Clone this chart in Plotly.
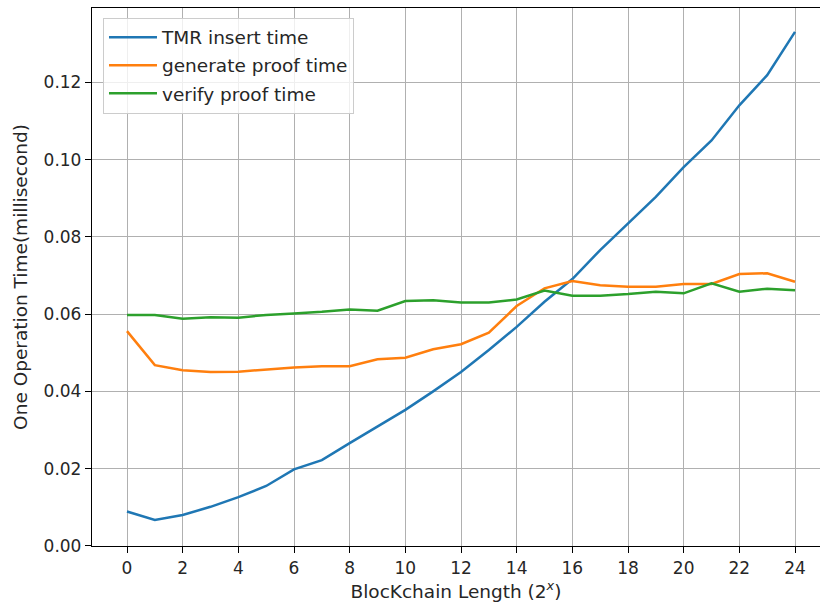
import plotly.graph_objects as go

x_vals = list(range(25))
tmr_insert = [0.0089, 0.0067, 0.0080, 0.0101, 0.0126, 0.0155, 0.0198, 0.0222, 0.0266, 0.0310,
              0.0352, 0.0400, 0.0450, 0.0507, 0.0567, 0.0632, 0.0691, 0.0766, 0.0835, 0.0904,
              0.0981, 0.1050, 0.1141, 0.1219, 0.1331]
gen_proof = [0.0556, 0.0468, 0.0455, 0.0450, 0.0451, 0.0457, 0.0462, 0.0465, 0.0465, 0.0483,
             0.0487, 0.0509, 0.0522, 0.0552, 0.0621, 0.0667, 0.0686, 0.0675, 0.0671, 0.0671,
             0.0678, 0.0678, 0.0704, 0.0706, 0.0684]
ver_proof = [0.0598, 0.0598, 0.0588, 0.0592, 0.0591, 0.0598, 0.0602, 0.0606, 0.0612, 0.0609,
             0.0634, 0.0636, 0.0630, 0.0630, 0.0638, 0.0661, 0.0648, 0.0648, 0.0652, 0.0658,
             0.0654, 0.0680, 0.0658, 0.0666, 0.0662]
names = ["TMR insert time", "generate proof time", "verify proof time"]
colors = ["#1f77b4", "#ff7f0e", "#2ca02c"]
x_ticks = list(range(0, 25, 2))
y_ticks = [0.00, 0.02, 0.04, 0.06, 0.08, 0.10, 0.12]

FONT = "DejaVu Sans"
FS = 17
TFS = 18.5
TXT = "#262626"
fig = go.Figure()
for i, (nm, ys) in enumerate(zip(names, [tmr_insert, gen_proof, ver_proof])):
    fig.add_trace(go.Scatter(x=x_vals, y=ys, mode="lines", name=nm,
                             legendgroup=str(i),
                             line=dict(color=colors[i], width=2.5)))

fig.update_layout(
    width=820, height=606,
    margin=dict(l=92, r=0, t=8, b=60, autoexpand=False),
    paper_bgcolor="white", plot_bgcolor="white",
    font=dict(family=FONT, size=FS, color=TXT),
    showlegend=True,
    legend=dict(x=0.0151, y=0.982, xanchor="left", yanchor="top",
                bgcolor="rgba(255,255,255,0.8)", bordercolor="#cccccc", borderwidth=1,
                font=dict(family=FONT, size=TFS, color=TXT),
                itemwidth=48,
                traceorder="grouped", tracegroupgap=1),
    xaxis=dict(range=[-1.2576, 24.898], tickmode="array", tickvals=x_ticks,
               ticktext=[str(t) for t in x_ticks],
               showgrid=True, gridcolor="#b0b0b0", gridwidth=1.3,
               showline=True, linecolor="black", linewidth=1.3, mirror=True,
               ticks="outside", ticklen=6, tickcolor="black", tickwidth=1.3,
               zeroline=False, automargin=False,
               tickfont=dict(family=FONT, size=FS, color=TXT),
               title=dict(text="BlocKchain Length (2<sup><i>x</i></sup>)",
                          font=dict(family=FONT, size=TFS, color=TXT), standoff=8)),
    yaxis=dict(range=[-0.00005, 0.1393], tickmode="array", tickvals=y_ticks,
               ticktext=["%.2f" % t for t in y_ticks],
               showgrid=True, gridcolor="#b0b0b0", gridwidth=1.3,
               showline=True, linecolor="black", linewidth=1.3, mirror=False,
               ticks="outside", ticklen=6, tickcolor="black", tickwidth=1.3,
               zeroline=False, automargin=False,
               tickfont=dict(family=FONT, size=FS, color=TXT),
               title=dict(text="One Operation Time(millisecond)",
                          font=dict(family=FONT, size=TFS, color=TXT), standoff=11)),
)
fig.write_html("out.html", post_script="document.body.style.margin='0px';",
               config={"displayModeBar": False})
